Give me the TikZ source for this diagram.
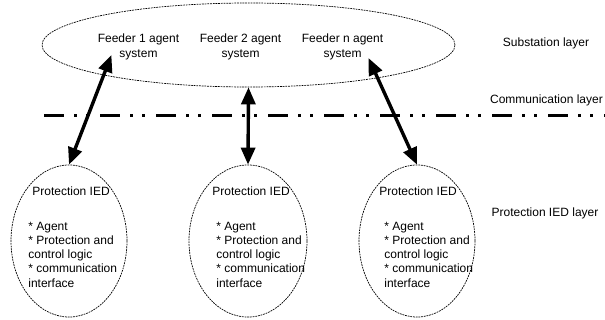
\documentclass[tikz,border=0pt]{standalone}
\usepackage{fontspec}
\setmainfont{Liberation Sans}
\usetikzlibrary{shapes.geometric, arrows.meta, calc}
\tikzset{every picture/.style={line width=0.75pt}}
\tikzset{
  layerell/.style={draw=black, line width=0.7pt, dash pattern=on 1.8pt off 0.9pt, ellipse, inner sep=0pt},
  feedtext/.style={align=center, inner sep=0pt},
  iedtext/.style={anchor=west, align=left, inner sep=0pt},
  linkarrow/.style={line width=3.4pt, {Triangle[length=17pt,width=14pt]}-{Triangle[length=17pt,width=14pt]}},
  commline/.style={line width=2.75pt, dash pattern=on 20pt off 10pt on 3pt off 9pt on 3pt off 11pt},
}

\begin{document}
\begin{tikzpicture}[x=1pt,y=1pt,yscale=-1,xscale=1,font=\fontsize{12}{14.25}\selectfont]
    \useasboundingbox (0,0) rectangle (605,320);
    % substation layer
    \node [layerell, minimum width=413, minimum height=84] (sub) at (248.5,45) {};
    \node [feedtext] (f1) at (138.5,47) {Feeder 1 agent\\system};
    \node [feedtext] (f2) at (240.5,47) {Feeder 2 agent\\system};
    \node [feedtext] (fn) at (342.5,47) {Feeder n agent\\system};
    % protection IED layer
    \node [layerell, minimum width=116, minimum height=152] (ied1) at (69,241) {};
    \node [layerell, minimum width=118, minimum height=152] (ied2) at (248,241) {};
    \node [layerell, minimum width=116, minimum height=152] (ied3) at (417,241) {};
    \node [iedtext] (t1) at (32,191) {Protection IED};
    \node [iedtext] (t2) at (212,191) {Protection IED};
    \node [iedtext] (t3) at (379,191) {Protection IED};
    \node [iedtext] (b1) at (28,254.5) {* Agent\\* Protection and\\control logic\\* communication\\interface};
    \node [iedtext] (b2) at (216,254.5) {* Agent\\* Protection and\\control logic\\* communication\\interface};
    \node [iedtext] (b3) at (384,254.5) {* Agent\\* Protection and\\control logic\\* communication\\interface};
    % layer names
    \node (lsub) at (546,43) {Substation layer};
    \node (lcom) at (546.5,100) {Communication layer};
    \node (lied) at (545,213) {Protection IED layer};
    % communication layer
    \coordinate (cl0) at (44,115.5);
    \coordinate (cl1) at (605,115.5);
    \draw [commline] (cl0) -- (cl1);
    \draw [linkarrow] (ied1.north) -- ($(f1.south west)+(14,-5)$);
    \draw [linkarrow] (sub.south) -- (ied2.north);
    \draw [linkarrow] ($(fn.south east)+(-15,-2)$) -- (ied3.north);
\end{tikzpicture}
\end{document}
